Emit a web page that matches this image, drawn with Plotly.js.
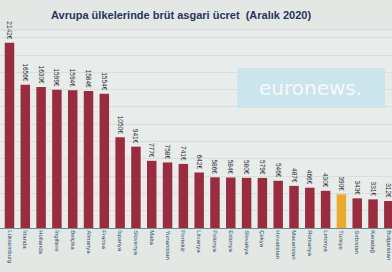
<!DOCTYPE html>
<html>
<head>
<meta charset="utf-8">
<script src="https://cdn.plot.ly/plotly-3.0.1.min.js"></script>
<style>html,body{margin:0;padding:0;background:#e4e8e5;}#chart{width:392px;height:272px;}</style>
</head>
<body>
<div id="chart"></div>
<script>
const countries = ["Lüksemburg","İrlanda","Hollanda","İngiltere","Belçika","Almanya","Fransa","İspanya","Slovenya","Malta","Yunanistan","Portekiz","Litvanya","Polonya","Estonya","Slovakya","Çekya","Hırvatistan","Macaristan","Romanya","Letonya","Türkiye","Sırbistan","Karadağ","Bulgaristan"];
const wages = [2142,1656,1630,1599,1594,1584,1554,1050,941,777,758,741,642,586,584,580,579,546,487,466,430,390,343,331,312];
const valueLabels = wages.map(v => v + "€");
const highlight = "Türkiye";

const colors = countries.map(c => c === highlight ? "#e9aa2e" : "#9a2c40");
const xs = countries.map((c, i) => i);

const trace = {
  type: "bar",
  x: xs,
  y: wages,
  marker: {color: colors},
  text: valueLabels,
  textposition: "outside",
  textangle: 90,
  constraintext: "none",
  cliponaxis: false,
  textfont: {family: "Liberation Sans, Arial, sans-serif", size: 6.5, color: "#2b2b35"},
  hoverinfo: "none"
};

const layout = {
  width: 392, height: 272,
  margin: {l: 0, r: 0, t: 30, b: 44},
  paper_bgcolor: "#e4e8e5",
  plot_bgcolor: "#e8ecea",
  bargap: 0.4,
  showlegend: false,
  title: {
    text: "<b>Avrupa ülkelerinde brüt asgari ücret  (Aralık 2020)</b>",
    font: {family: "Liberation Sans, Arial, sans-serif", size: 11, color: "#24365e"},
    x: 0.462, xanchor: "center", y: 0.945, yanchor: "middle"
  },
  xaxis: {
    range: [-0.6, 24.2],
    tickmode: "array",
    tickvals: xs,
    ticktext: countries,
    tickangle: 90,
    tickfont: {family: "Liberation Sans, Arial, sans-serif", size: 6, color: "#2a4d70"},
    showline: true, linecolor: "#6f8a95", linewidth: 1,
    showgrid: false, zeroline: false, ticks: "", fixedrange: true
  },
  yaxis: {
    range: [0, 2290],
    showticklabels: false,
    showgrid: true, gridcolor: "#dadfdc", dtick: 200,
    zeroline: false, showline: false, fixedrange: true
  },
  shapes: [
    {type: "rect", xref: "paper", yref: "paper", x0: 0.605, x1: 0.982, y0: 0.606, y1: 0.808,
     fillcolor: "#cbe5ef", line: {width: 0}, layer: "below"},
    {type: "line", xref: "paper", yref: "paper", x0: 0, x1: 1, y0: 1.0, y1: 1.0,
     line: {color: "#d3d8d5", width: 1}}
  ],
  annotations: [
    {xref: "paper", yref: "paper", x: 0.793, y: 0.707, xanchor: "center", yanchor: "middle",
     text: "euronews.", showarrow: false,
     font: {family: "DejaVu Sans, sans-serif", size: 20, color: "#f4fafc"}}
  ]
};

Plotly.newPlot("chart", [trace], layout, {displayModeBar: false, staticPlot: true});
</script>
</body>
</html>
